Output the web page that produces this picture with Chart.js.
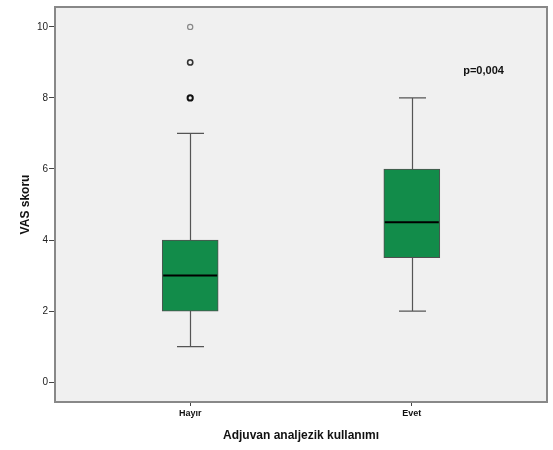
<!DOCTYPE html>
<html>
<head>
<meta charset="utf-8">
<script src="https://cdn.jsdelivr.net/npm/chart.js@4/dist/chart.umd.min.js"></script>
<style>
  body { margin: 0; background: #fff; }
  canvas { display: block; }
</style>
</head>
<body>
<canvas id="box-canvas" width="553" height="450"></canvas>
<script>
// box plot values
const categories = ['Hayır', 'Evet'];
const whiskerLow = [1, 2];
const q1 = [2, 3.5];
const median = [3, 4.5];
const q3 = [4, 6];
const whiskerHigh = [7, 8];
const outlierCat = [0, 0, 0];
const outlierVal = [8, 9, 10];
const yTicks = [0, 2, 4, 6, 8, 10];
const pText = 'p=0,004';
const pPos = { x: 1.232, y: 8.77 };

const FONT = '"Liberation Sans", Arial, sans-serif';

// plot area background, whiskers, medians, frame
const boxPlugin = {
  id: 'boxExtras',
  beforeDatasetsDraw(chart) {
    const { ctx, chartArea: a } = chart;
    ctx.save();
    ctx.fillStyle = '#F0F0F0';
    ctx.fillRect(a.left, a.top, a.right - a.left, a.bottom - a.top);
    ctx.restore();
  },
  afterDatasetsDraw(chart) {
    const { ctx, chartArea: a } = chart;
    const xs = chart.scales.x, ys = chart.scales.y;
    const capHalf = 13.5, boxHalf = 28;
    ctx.save();
    ctx.strokeStyle = '#555';
    ctx.lineWidth = 1.2;
    categories.forEach((c, i) => {
      const x = Math.round(xs.getPixelForValue(i)) + 0.5;
      const yl = ys.getPixelForValue(whiskerLow[i]);
      const yq1 = ys.getPixelForValue(q1[i]);
      const yq3 = ys.getPixelForValue(q3[i]);
      const yh = ys.getPixelForValue(whiskerHigh[i]);
      ctx.beginPath();
      ctx.moveTo(x, yl); ctx.lineTo(x, yq1);
      ctx.moveTo(x, yq3); ctx.lineTo(x, yh);
      ctx.moveTo(x - capHalf, yl); ctx.lineTo(x + capHalf, yl);
      ctx.moveTo(x - capHalf, yh); ctx.lineTo(x + capHalf, yh);
      ctx.stroke();
    });
    ctx.strokeStyle = '#000';
    ctx.lineWidth = 2;
    categories.forEach((c, i) => {
      const x = xs.getPixelForValue(i);
      const ym = ys.getPixelForValue(median[i]);
      ctx.beginPath();
      ctx.moveTo(x - boxHalf + 1, ym); ctx.lineTo(x + boxHalf - 1, ym);
      ctx.stroke();
    });
    ctx.fillStyle = '#111';
    ctx.font = 'bold 11px ' + FONT;
    ctx.textBaseline = 'middle';
    ctx.fillText(pText, xs.getPixelForValue(pPos.x), ys.getPixelForValue(pPos.y));
    ctx.strokeStyle = '#888';
    ctx.lineWidth = 2;
    ctx.strokeRect(a.left, a.top, a.right - a.left, a.bottom - a.top);
    ctx.restore();
  }
};

new Chart(document.getElementById('box-canvas'), {
  type: 'bar',
  data: {
    datasets: [
      {
        label: 'box',
        data: categories.map((c, i) => ({ x: i, y: [q1[i], q3[i]] })),
        backgroundColor: '#128C4A',
        borderColor: '#505050',
        borderWidth: 1,
        borderSkipped: false,
        barThickness: 56,
        order: 2
      },
      {
        type: 'scatter',
        label: 'outliers',
        data: outlierVal.map((v, i) => ({ x: outlierCat[i], y: v })),
        pointStyle: 'circle',
        pointRadius: 2.6,
        backgroundColor: 'rgba(0,0,0,0)',
        borderColor: ['#111', '#333', '#888'],
        borderWidth: [2, 1.6, 1.2],
        order: 1
      }
    ]
  },
  options: {
    responsive: false,
    devicePixelRatio: 1,
    animation: false,
    layout: { padding: { top: 5, right: 6, left: 0, bottom: 0 } },
    plugins: {
      legend: { display: false },
      tooltip: { enabled: false }
    },
    scales: {
      x: {
        type: 'linear',
        min: -0.61,
        max: 1.61,
        offset: false,
        afterBuildTicks: s => { s.ticks = categories.map((c, i) => ({ value: i })); },
        afterFit: s => { s.height = 48; },
        ticks: {
          callback: v => categories[v],
          color: '#111',
          font: { family: FONT, size: 9, weight: 'bold' },
          padding: 2,
          maxRotation: 0
        },
        grid: { drawOnChartArea: false, offset: false, tickLength: 4, color: '#444' },
        border: { display: false },
        title: {
          display: true,
          text: 'Adjuvan analjezik kullanımı',
          color: '#111',
          font: { family: FONT, size: 12, weight: 'bold' },
          padding: { top: 7, bottom: 7 }
        }
      },
      y: {
        min: -0.56,
        max: 10.56,
        afterBuildTicks: s => { s.ticks = yTicks.map(v => ({ value: v })); },
        afterFit: s => { s.width = 55; },
        ticks: {
          color: '#222',
          font: { family: FONT, size: 10 },
          padding: 1
        },
        grid: { drawOnChartArea: false, tickLength: 6, color: '#444' },
        border: { display: false },
        title: {
          display: true,
          text: 'VAS skoru',
          color: '#111',
          font: { family: FONT, size: 12, weight: 'bold' },
          padding: { top: 18, bottom: 18 }
        }
      }
    }
  },
  plugins: [boxPlugin]
});
</script>
</body>
</html>
